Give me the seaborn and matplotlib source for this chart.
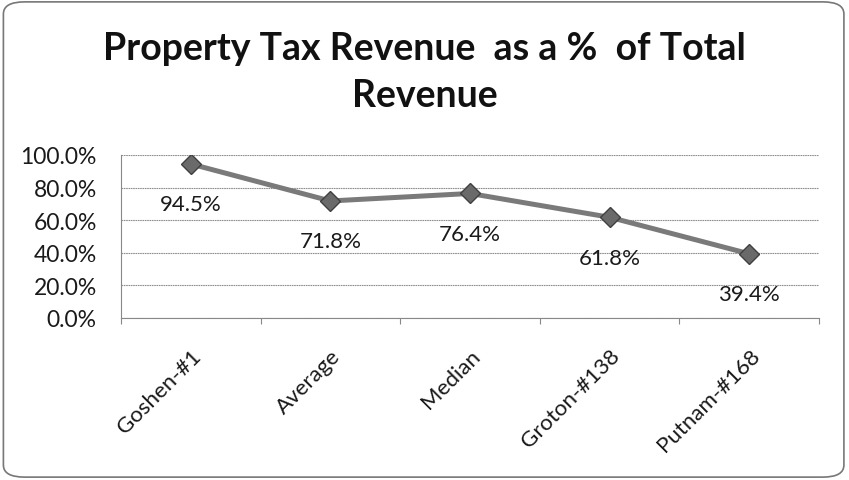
import matplotlib
matplotlib.use("Agg")
import matplotlib.pyplot as plt
from matplotlib.patches import FancyBboxPatch
from matplotlib.ticker import FuncFormatter, FixedLocator
from matplotlib.transforms import ScaledTranslation
import seaborn as sns
import pandas as pd

categories = ["Goshen-#1", "Average", "Median", "Groton-#138", "Putnam-#168"]
values = [94.5, 71.8, 76.4, 61.8, 39.4]
yticks = [0, 20, 40, 60, 80, 100]

sns.set_style("white")
plt.rcParams["font.family"] = ["Lato", "DejaVu Sans"]

df = pd.DataFrame({"town": categories, "pct": values})
df["x"] = range(len(df))

fig = plt.figure(figsize=(8.49, 4.81), dpi=100)
# plot area: x 121..819 px, y 156..319 px
ax = fig.add_axes([121 / 849, 1 - 319 / 481, 698 / 849, 163 / 481])

sns.lineplot(data=df, x="x", y="pct", ax=ax, color="#7a7a7a", linewidth=3.6,
             marker="D", markersize=10, markerfacecolor="#6a6a6a",
             markeredgecolor="#404040", markeredgewidth=1)

for xi, v in zip(df["x"], df["pct"]):
    ax.annotate(f"{v:.1f}%", (xi, v), xytext=(0, -29), textcoords="offset points",
                ha="center", va="center", fontsize=16, color="#1a1a1a")

ax.set_xlim(-0.5, len(categories) - 0.5)
ax.set_ylim(0, 100)
ax.set_yticks(yticks)
ax.yaxis.set_major_formatter(FuncFormatter(lambda v, p: f"{v:.1f}%"))
ax.yaxis.grid(True, color="#8f8f8f", linewidth=0.8, linestyle=(0, (1.5, 0.6)))
ax.set_xticks(df["x"])
ax.set_xticklabels(categories, rotation=45, ha="right", va="top", rotation_mode="anchor")
shift = ScaledTranslation(3 / 100, 0, fig.dpi_scale_trans)
for lab in ax.get_xticklabels():
    lab.set_transform(lab.get_transform() + shift)
ax.xaxis.set_minor_locator(FixedLocator([i - 0.5 for i in range(len(categories) + 1)]))
ax.tick_params(axis="x", which="major", length=0, labelsize=16, pad=19.5, labelcolor="#1a1a1a")
ax.tick_params(axis="x", which="minor", length=4, width=0.8, color="#888888", direction="out", bottom=True)
ax.tick_params(axis="y", labelsize=16.5, length=7, width=0.8, color="#888888", direction="inout",
               pad=14, labelcolor="#1a1a1a")
for s in ["top", "right"]:
    ax.spines[s].set_visible(False)
ax.spines["left"].set_color("#888888")
ax.spines["bottom"].set_color("#888888")
ax.set_xlabel("")
ax.set_ylabel("")

fig.text(0.5, 1 - 60 / 481, "Property Tax Revenue  as a %  of Total", ha="center", va="baseline",
         fontsize=27, fontweight="bold", color="#111111")
fig.text(0.5, 1 - 107 / 481, "Revenue", ha="center", va="baseline",
         fontsize=27, fontweight="bold", color="#111111")

border = FancyBboxPatch((0.004, 0.006), 0.99, 0.988, boxstyle="round,pad=0,rounding_size=0.025",
                        transform=fig.transFigure, fill=False, edgecolor="#777777", linewidth=1.2)
fig.patches.append(border)

fig.savefig("out.png", dpi=100)
